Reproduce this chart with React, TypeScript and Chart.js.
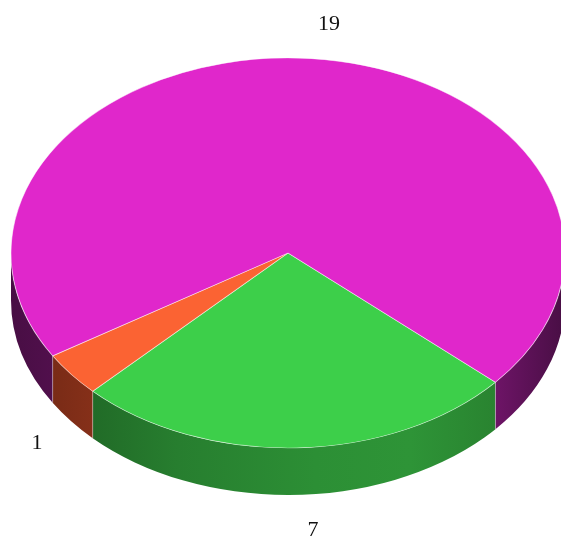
import React, { useEffect, useRef } from "react";
import { Chart, registerables } from "chart.js";

Chart.register(...registerables);

// ---- data ----
const categories = ["Green", "Orange", "Magenta"];
const values = [7, 1, 19];
const valueLabels = ["7", "1", "19"];

// ---- styles ----
const topColors = ["#3DCF4A", "#FB6333", "#E027CB"];
const wallColors = ["#34a83e", "#d04a26", "#8a1a82"];

const CX = 288;
const CY = 253;
const RX = 277;
const RY = 195;
const DEPTH = 47;
const START_DEG = 41.5; // screen angle where first slice begins

function hexToRgb(h: string) {
  const n = parseInt(h.slice(1), 16);
  return [(n >> 16) & 255, (n >> 8) & 255, n & 255];
}
function shade(h: string, f: number) {
  const [r, g, b] = hexToRgb(h);
  const c = (v: number) => Math.max(0, Math.min(255, Math.round(v * f)));
  return `rgb(${c(r)},${c(g)},${c(b)})`;
}
const lightStops: [number, number][] = [
  [0, 0.52],
  [0.12, 0.62],
  [0.3, 0.75],
  [0.55, 0.85],
  [0.72, 0.88],
  [0.88, 0.78],
  [1, 0.52],
];

const pie3d = {
  id: "pie3d",
  beforeDatasetsDraw(chart: any) {
    const ctx: CanvasRenderingContext2D = chart.ctx;
    const meta = chart.getDatasetMeta(0);
    const arcs = meta.data;
    ctx.save();
    if (!arcs.length) return;
    const a0 = arcs[0];
    const R = a0.outerRadius;
    const ox = a0.x;
    const oy = a0.y;
    const TWO = Math.PI * 2;
    // side walls
    arcs.forEach((arc: any, i: number) => {
      const s = arc.startAngle;
      const e = arc.endAngle;
      for (let k = -2; k <= 2; k++) {
        const lo = Math.max(s, TWO * k);
        const hi = Math.min(e, TWO * k + Math.PI);
        if (hi <= lo) continue;
        const g = ctx.createLinearGradient(CX - RX, 0, CX + RX, 0);
        lightStops.forEach(([t, f]) => g.addColorStop(t, shade(wallColors[i], f)));
        ctx.beginPath();
        ctx.ellipse(CX, CY, RX, RY, 0, lo, hi, false);
        ctx.ellipse(CX, CY + DEPTH, RX, RY, 0, hi, lo, true);
        ctx.closePath();
        ctx.fillStyle = g;
        ctx.fill();
      }
    });
    // divider lines on the wall
    arcs.forEach((arc: any) => {
      let t = arc.startAngle % TWO;
      if (t < 0) t += TWO;
      if (t > 0.02 && t < Math.PI - 0.02) {
        const x = CX + RX * Math.cos(t);
        const y = CY + RY * Math.sin(t);
        ctx.beginPath();
        ctx.moveTo(x, y);
        ctx.lineTo(x, y + DEPTH);
        ctx.strokeStyle = "rgba(255,255,255,0.35)";
        ctx.lineWidth = 1;
        ctx.stroke();
      }
    });
    // squash top face into an ellipse
    ctx.translate(CX, CY);
    ctx.scale(RX / R, RY / R);
    ctx.translate(-ox, -oy);
  },
  afterDatasetsDraw(chart: any) {
    const ctx: CanvasRenderingContext2D = chart.ctx;
    ctx.restore();
    const arcs = chart.getDatasetMeta(0).data;
    ctx.save();
    ctx.fillStyle = "#111111";
    ctx.font = "22px 'Liberation Serif', 'Times New Roman', serif";
    ctx.textAlign = "center";
    ctx.textBaseline = "middle";
    arcs.forEach((arc: any, i: number) => {
      const mid = (arc.startAngle + arc.endAngle) / 2;
      const c = Math.cos(mid);
      const sn = Math.sin(mid);
      const x = CX + (RX + 48) * c + 15 * (1 - Math.abs(c));
      const y = CY + (RY + 35) * sn + (sn > 0 ? DEPTH : 0);
      ctx.fillText(valueLabels[i], x, y);
    });
    ctx.restore();
  },
};

export default function App() {
  const ref = useRef<HTMLCanvasElement | null>(null);
  useEffect(() => {
    document.body.style.margin = "0";
    document.body.style.background = "#ffffff";
    if (!ref.current) return;
    const chart = new Chart(ref.current, {
      type: "pie",
      data: {
        labels: categories,
        datasets: [
          {
            data: values,
            backgroundColor: topColors,
            borderColor: "rgba(255,255,255,0.55)",
            borderWidth: 1,
            clip: false as any,
          } as any,
        ],
      },
      options: {
        animation: false,
        responsive: false,
        devicePixelRatio: 1,
        rotation: START_DEG + 90,
        layout: { padding: 0 },
        plugins: {
          legend: { display: false },
          tooltip: { enabled: false },
        },
      },
      plugins: [pie3d],
    });
    return () => chart.destroy();
  }, []);
  return (
    <div style={{ width: 561, height: 542, background: "#fff" }}>
      <canvas ref={ref} width={561} height={542} style={{ display: "block" }} />
    </div>
  );
}
